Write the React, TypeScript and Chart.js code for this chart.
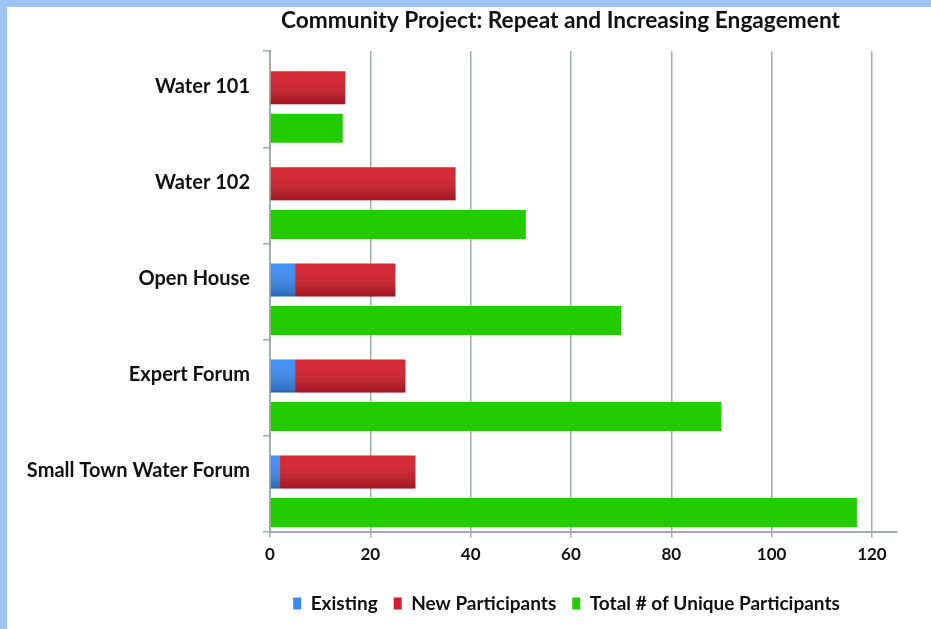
import React, { useEffect, useRef } from 'react';
import { Chart, registerables } from 'chart.js';

Chart.register(...registerables);

const titleText = 'Community Project: Repeat and Increasing Engagement';
const categories = ['Water 101', 'Water 102', 'Open House', 'Expert Forum', 'Small Town Water Forum'];
const existing = [0, 0, 5, 5, 2];
const newParticipants = [15, 37, 20, 22, 27];
const totalUnique = [14.5, 51, 70, 90, 117];
const xTicks = [0, 20, 40, 60, 80, 100, 120];
const seriesNames = ['Existing', 'New Participants', 'Total # of Unique Participants'];
const seriesColors = ['#3b8bf4', '#d41c2a', '#22cc00'];

const FONT = 'Lato, "Open Sans", sans-serif';
const GRID = '#a3acac';
const TITLE_SHIFT = -23;
const LEGEND_SHIFT = -17;

const shadePlugin = {
  id: 'barShade',
  afterDatasetDraw(chart: any, args: any) {
    if (args.index > 1) return;
    const ctx = chart.ctx;
    args.meta.data.forEach((el: any) => {
      const p = el.getProps(['x', 'y', 'base', 'height'], true);
      const left = Math.min(p.x, p.base);
      const right = Math.max(p.x, p.base);
      if (right - left < 0.5) return;
      const top = p.y - p.height / 2;
      const bottom = p.y + p.height / 2;
      const g = ctx.createLinearGradient(0, top, 0, bottom);
      g.addColorStop(0, 'rgba(255,255,255,0.04)');
      g.addColorStop(1, 'rgba(0,0,0,0.26)');
      ctx.save();
      ctx.fillStyle = g;
      ctx.fillRect(left, top, right - left, bottom - top);
      ctx.restore();
    });
  },
};

const shiftPlugin = {
  id: 'blockShift',
  afterLayout(chart: any) {
    if (chart.titleBlock) {
      chart.titleBlock.left += TITLE_SHIFT;
      chart.titleBlock.right += TITLE_SHIFT;
    }
    if (chart.legend) {
      chart.legend.left += LEGEND_SHIFT;
      chart.legend.right += LEGEND_SHIFT;
    }
  },
};

export default function App() {
  const ref = useRef<HTMLCanvasElement | null>(null);

  useEffect(() => {
    if (!ref.current) return;
    const chart = new Chart(ref.current, {
      type: 'bar',
      data: {
        labels: categories,
        datasets: [
          {
            label: seriesNames[0],
            data: existing,
            stack: 'a',
            backgroundColor: seriesColors[0],
            borderWidth: 0,
            categoryPercentage: 0.48,
            barPercentage: 1.43,
          },
          {
            label: seriesNames[1],
            data: newParticipants,
            stack: 'a',
            backgroundColor: seriesColors[1],
            borderWidth: 0,
            categoryPercentage: 0.48,
            barPercentage: 1.43,
          },
          {
            label: seriesNames[2],
            data: totalUnique,
            stack: 'b',
            backgroundColor: seriesColors[2],
            borderWidth: 0,
            categoryPercentage: 1.21,
            barPercentage: 0.5,
          },
        ],
      },
      options: {
        indexAxis: 'y',
        responsive: false,
        animation: false,
        devicePixelRatio: 1,
        layout: { padding: { left: 4, right: 34, top: 0, bottom: 6 } },
        plugins: {
          title: {
            display: true,
            fullSize: false,
            text: titleText,
            color: '#111',
            font: { family: FONT, size: 22.7, weight: 'bold' },
            padding: { top: 0, bottom: 17 },
          },
          legend: {
            position: 'bottom',
            fullSize: false,
            labels: {
              boxWidth: 8,
              boxHeight: 12,
              padding: 16,
              color: '#111',
              font: { family: FONT, size: 19, weight: 'bold' },
              generateLabels: () =>
                seriesNames.map((n, i) => ({
                  text: n,
                  fillStyle: seriesColors[i],
                  strokeStyle: seriesColors[i],
                  lineWidth: 0,
                  hidden: false,
                  datasetIndex: i,
                  fontColor: '#111',
                })),
            },
          },
          tooltip: { enabled: false },
        },
        scales: {
          x: {
            type: 'linear',
            min: 0,
            max: 125,
            stacked: true,
            afterBuildTicks: (s: any) => {
              s.ticks = xTicks.map((v) => ({ value: v }));
            },
            afterFit: (s: any) => {
              s.height = s.height + 6;
            },
            ticks: {
              color: '#111',
              padding: 7,
              font: { family: FONT, size: 17, weight: 'bold' },
            },
            grid: { color: GRID, lineWidth: 1.5, tickLength: 6, drawOnChartArea: true },
            border: { color: GRID, width: 2 },
          },
          y: {
            type: 'category',
            stacked: true,
            offset: true,
            afterFit: (s: any) => {
              s.width = 259;
            },
            ticks: {
              color: '#111',
              padding: 13,
              labelOffset: -13,
              font: { family: FONT, size: 20, weight: 'bold' },
            },
            grid: {
              display: true,
              drawOnChartArea: false,
              drawTicks: true,
              tickLength: 7,
              color: GRID,
              lineWidth: 1.5,
              offset: true,
            },
            border: { color: GRID, width: 2 },
          },
        },
      },
      plugins: [shadePlugin, shiftPlugin],
    });
    return () => chart.destroy();
  }, []);

  return (
    <div
      style={{
        position: 'absolute',
        left: 0,
        top: 0,
        width: 931,
        height: 629,
        background: '#9fc5f5',
        overflow: 'hidden',
      }}
    >
      <div style={{ position: 'absolute', left: 7, top: 7, width: 924, height: 622, background: '#fff' }}>
        <canvas ref={ref} width={924} height={622} style={{ display: 'block' }} />
      </div>
    </div>
  );
}
